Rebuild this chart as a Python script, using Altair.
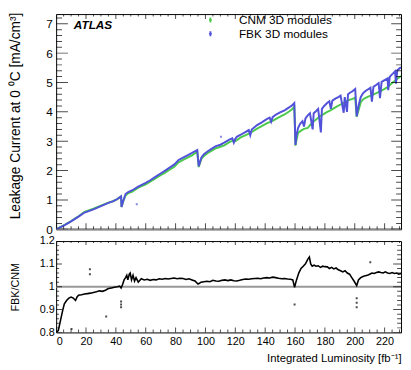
import altair as alt
import pandas as pd

# ---------------- data ----------------
series_names = ["CNM 3D modules", "FBK 3D modules"]
series_colors = ["#4cc94c", "#5151d9"]

cnm_x = [0, 3, 6, 10, 15, 19, 25, 30, 35, 38, 41, 43.5, 43.8, 45, 46.5, 48, 51, 55, 60, 63, 67, 70, 73, 76, 79, 82, 85, 88, 91, 94.5,
         95.5, 97.3, 99, 101.6, 104, 107, 110, 112.6, 116, 118, 120, 123.6, 127, 130, 134.6, 138, 141, 145, 147, 150, 153, 156, 158, 159.5,
         160.3, 161, 162, 164, 166, 168.5, 170, 172, 175.5, 178, 181, 184, 187, 190.5, 193, 196, 198.5, 200.3, 201.3,
         202.5, 204, 205.5, 207, 209, 212, 214.5, 217, 220, 222, 225, 227, 229, 231]
cnm_y = [0, 0.08, 0.16, 0.28, 0.445, 0.59, 0.70, 0.805, 0.91, 0.955, 1.03, 1.12, 0.76, 0.96, 1.15, 1.22, 1.28, 1.42, 1.53, 1.62, 1.75, 1.84, 1.93, 2.03, 2.12, 2.28, 2.36, 2.44, 2.52, 2.64,
         2.12, 2.40, 2.50, 2.60, 2.67, 2.76, 2.81, 2.86, 2.97, 3.01, 3.0, 3.13, 3.21, 3.28, 3.43, 3.52, 3.61, 3.69, 3.75, 3.84, 3.91, 4.01, 4.09, 4.17,
         2.85, 3.05, 3.28, 3.36, 3.42, 3.45, 3.55, 3.65, 3.8, 3.89, 3.98, 4.06, 4.15, 4.25, 4.32, 4.4, 4.44, 4.48, 3.83,
         4.05, 4.32, 4.42, 4.47, 4.52, 4.58, 4.64, 4.7, 4.78, 4.84, 4.98, 5.06, 5.15, 5.22]

fbk_x = [0, 3, 6, 10, 15, 19, 25, 30, 35, 38, 41, 43.5, 43.8, 45, 46.5, 48, 51, 55, 60, 63, 67, 70, 73, 76, 79, 82, 85, 88, 91, 94.5,
         95.5, 97.3, 99, 101.6, 104, 107, 110, 112.6, 116, 118, 119, 120, 121, 123.6, 127, 129, 130, 131, 134.6, 138, 141, 143, 144, 145, 147, 150, 153, 156, 158, 159.5,
         160.3, 161, 162, 163.5, 165, 166, 167, 168.5, 170, 171.8, 172.5, 174, 175.5, 177.3, 178, 179.5, 181.5, 183, 184, 185, 187, 189, 190.5, 192.6, 193.3, 194.8, 195.5, 197, 198.5, 200.3, 201.3,
         202.5, 204, 205.5, 207, 209, 210.5, 211.5, 212.5, 214.5, 216, 216.9, 218, 220, 222, 222.4, 223.5, 225.5, 227, 227.6, 228.5, 230, 231]
fbk_y = [0, 0.07, 0.15, 0.27, 0.43, 0.57, 0.68, 0.79, 0.9, 0.95, 1.03, 1.12, 0.76, 0.98, 1.2, 1.26, 1.33, 1.45, 1.58, 1.67, 1.8, 1.9, 2.0, 2.1, 2.2, 2.36, 2.44, 2.52, 2.6, 2.7,
         2.15, 2.45, 2.56, 2.66, 2.74, 2.83, 2.88, 2.95, 3.05, 3.1, 2.95, 3.08, 3.15, 3.22, 3.32, 3.38, 3.2, 3.4, 3.55, 3.65, 3.75, 3.8, 3.66, 3.82, 3.9, 3.98, 4.05, 4.15, 4.22, 4.3,
         2.87, 3.2, 3.45, 3.6, 3.68, 3.5, 3.78, 3.88, 3.95, 3.4, 3.95, 4.02, 4.1, 3.3, 4.1, 4.2, 4.3, 4.36, 4.1, 4.38, 4.45, 4.5, 4.55, 3.97, 4.5, 4.0, 4.6, 4.66, 4.7, 4.78, 3.85,
         4.2, 4.5, 4.63, 4.7, 4.77, 4.82, 4.35, 4.85, 4.92, 4.98, 4.47, 5.02, 5.08, 5.14, 4.74, 5.2, 5.3, 5.38, 4.96, 5.42, 5.48, 5.52]

fbk_stray_x = [54, 110.4]
fbk_stray_y = [0.85, 3.15]

ratio_x = [0.5, 1.5, 2.5, 3.5, 4.5, 5.5, 7, 8.5, 10, 11.5, 13, 14, 15, 17, 19, 21, 23, 25, 27, 29,
           31, 33, 35, 37, 39, 41, 42.5, 43.5, 44.5, 45.5, 46.5, 47.3, 48, 49, 49.6, 50.5, 51.5, 52.5, 53.5, 55,
           57, 59, 61, 63, 65, 67, 69, 71, 73, 75, 77, 79, 81, 83, 85, 87, 89, 91, 93, 95,
           96, 97, 99, 101, 103, 105, 107, 109, 111, 113, 115, 117, 119, 121, 123, 125, 127, 129, 131, 133,
           135, 137, 139, 141, 143, 145, 147, 149, 151, 153, 155, 157, 158.5, 159.7, 161, 162.5, 164, 165.5, 167, 168.5,
           169.6, 170.5, 171.5, 172.8, 174, 175.5, 177, 178.5, 180, 181.6, 183, 184.5, 186, 187.5, 189, 190.5, 192, 193.5, 195, 196.5,
           198, 199.5, 201.3, 202.5, 204, 205.5, 207, 208.5, 210, 211.5, 213, 214.5, 216, 217.5, 219, 220.5, 222, 223.5, 225, 226.5,
           228, 229.5, 231]
ratio_y = [0.80, 0.81, 0.84, 0.87, 0.90, 0.925, 0.94, 0.95, 0.955, 0.95, 0.94, 0.955, 0.963, 0.965, 0.968, 0.97, 0.972, 0.975, 0.978, 0.982,
           0.98, 0.985, 0.992, 0.995, 0.998, 1.0, 1.003, 0.995, 1.01, 1.03, 1.04, 1.05, 1.03, 1.055, 1.06, 1.03, 1.05, 1.025, 1.04, 1.02,
           1.035, 1.03, 1.033, 1.028, 1.032, 1.03, 1.035, 1.033, 1.036, 1.034, 1.036, 1.038, 1.035, 1.037, 1.036, 1.032, 1.035, 1.03, 1.025, 1.012,
           1.015, 1.02, 1.022, 1.024, 1.022, 1.028, 1.025, 1.024, 1.028, 1.03, 1.027, 1.03, 1.026, 1.025, 1.028, 1.032, 1.034, 1.033, 1.035, 1.036,
           1.037, 1.035, 1.038, 1.04, 1.038, 1.042, 1.04, 1.037, 1.035, 1.036, 1.034, 1.033, 1.03, 0.998, 1.03, 1.06, 1.08, 1.09, 1.1, 1.12,
           1.13, 1.1, 1.09, 1.095, 1.09, 1.092, 1.085, 1.09, 1.088, 1.087, 1.08, 1.085, 1.078, 1.082, 1.074, 1.07, 1.065, 1.07, 1.06, 1.055,
           1.04, 1.025, 1.005, 1.03, 1.04, 1.045, 1.048, 1.05, 1.055, 1.06, 1.058, 1.062, 1.065, 1.062, 1.06, 1.065, 1.06, 1.058, 1.062, 1.058,
           1.06, 1.055, 1.058]

ratio_stray_x = [10.3, 22.6, 22.6, 33.5, 43.5, 43.5, 43.5, 159.7, 201.3, 201.3, 201.3, 210.4]
ratio_stray_y = [0.815, 1.077, 1.055, 0.87, 0.91, 0.922, 0.935, 0.922, 0.95, 0.93, 0.91, 1.107]

x_label_values = [0, 20, 40, 60, 80, 100, 120, 140, 160, 180, 200, 220]
x_minor_values = [v for v in range(5, 231, 5) if v % 20 != 0]
top_y_major = [0, 1, 2, 3, 4, 5, 6, 7]
top_y_minor = [round(i * 0.2, 2) for i in range(1, 37) if i % 5 != 0]
bot_y_major = [0.8, 0.9, 1.0, 1.1, 1.2]
bot_y_minor = [round(0.8 + i * 0.02, 2) for i in range(1, 20) if i % 5 != 0]
ref_line = [1.0]

# ---------------- layout ----------------
W = 351
H1 = 219
H2 = 93
FONT = "Liberation Sans"

xscale = alt.Scale(domain=[0, 231], nice=False, zero=False)
ytop = alt.Scale(domain=[0, 7.33], nice=False, zero=False)
ybot = alt.Scale(domain=[0.8, 1.2], nice=False, zero=False)

ax_top_y = alt.Axis(
    values=top_y_major, ticks=False, tickSize=0, domain=False, grid=False,
    labelPadding=4, labelFontSize=12, labelColor="black", labelFont=FONT,
    title="Leakage Current at 0 \u2070C [mA/cm\u00b3]", titleFontSize=14,
    titleFontWeight="normal", titleColor="black", titleFont=FONT,
    titleX=-41, titleY=-2, titleAlign="right", titleBaseline="middle", titleAngle=270)
ax_bot_x = alt.Axis(
    values=x_label_values, ticks=False, tickSize=0, domain=False, grid=False,
    labelPadding=3, labelFontSize=11, labelColor="black", labelFont=FONT,
    title="Integrated Luminosity [fb\u207b\u00b9]", titleFontSize=11.5,
    titleFontWeight="normal", titleColor="black", titleFont=FONT,
    titleX=W, titleY=27, titleAlign="right", titleBaseline="middle")
ax_bot_y = alt.Axis(
    values=bot_y_major, ticks=False, tickSize=0, domain=False, grid=False,
    labelExpr="datum.value == 1 ? '1' : format(datum.value, '.1f')",
    labelPadding=2, labelFontSize=11, labelColor="black", labelFont=FONT,
    title="FBK/CNM", titleFontSize=11, titleFontWeight="normal",
    titleColor="black", titleFont=FONT,
    titleX=-41, titleY=H2 / 2, titleAlign="center", titleBaseline="middle", titleAngle=270)


def tick_layer(vals, channel, scale, axis, length, pos):
    df = pd.DataFrame({"t": vals})
    if channel == "x":
        enc = dict(x=alt.X("t:Q", scale=scale, axis=axis), y=alt.value(pos))
        orient = "vertical"
    else:
        enc = dict(y=alt.Y("t:Q", scale=scale, axis=axis), x=alt.value(pos))
        orient = "horizontal"
    return alt.Chart(df).mark_tick(orient=orient, size=2 * length, thickness=1,
                                   color="black", clip=True).encode(**enc)


top_df = pd.concat([
    pd.DataFrame({"x": cnm_x, "y": cnm_y, "series": series_names[0]}),
    pd.DataFrame({"x": fbk_x, "y": fbk_y, "series": series_names[1]}),
])

SYM = "M0,-1V1M-0.25,0A0.25,0.25,0,1,1,0.25,0A0.25,0.25,0,1,1,-0.25,0"

top_lines = alt.Chart(top_df).mark_line(strokeWidth=2, clip=True).encode(
    x=alt.X("x:Q", scale=xscale, axis=None),
    y=alt.Y("y:Q", scale=ytop, axis=ax_top_y),
    color=alt.Color("series:N", scale=alt.Scale(domain=series_names, range=series_colors),
                    legend=alt.Legend(orient="none", legendX=151, legendY=0, title=None,
                                      labelFontSize=12, labelFont=FONT, labelColor="black",
                                      symbolType=SYM, symbolSize=25, symbolStrokeWidth=1.8,
                                      labelOffset=23, rowPadding=0, padding=0, labelLimit=300)),
    order=alt.Order("x:Q"),
)

top_stray = alt.Chart(pd.DataFrame({"x": fbk_stray_x, "y": fbk_stray_y})).mark_square(
    size=4, color=series_colors[1], clip=True).encode(
    x=alt.X("x:Q", scale=xscale, axis=None), y=alt.Y("y:Q", scale=ytop, axis=ax_top_y))

top_base = alt.Chart(pd.DataFrame({"y": [0]})).mark_rule(color="#8a8a8a", strokeWidth=2).encode(
    y=alt.Y("y:Q", scale=ytop, axis=ax_top_y))

atlas = alt.Chart(pd.DataFrame({"t": ["ATLAS"]})).mark_text(
    align="left", baseline="middle", fontStyle="italic", fontWeight="bold",
    fontSize=12, font=FONT, color="black").encode(
    text="t:N", x=alt.value(18), y=alt.value(11.5))

top = alt.layer(
    top_base, top_lines, top_stray,
    tick_layer(x_label_values, "x", xscale, None, 6, H1),
    tick_layer(x_minor_values, "x", xscale, None, 3, H1),
    tick_layer(x_label_values, "x", xscale, None, 5, 0),
    tick_layer(x_minor_values, "x", xscale, None, 2.5, 0),
    tick_layer(top_y_major, "y", ytop, ax_top_y, 12, 0),
    tick_layer(top_y_minor, "y", ytop, ax_top_y, 6, 0),
    tick_layer(top_y_major, "y", ytop, ax_top_y, 10, W),
    tick_layer(top_y_minor, "y", ytop, ax_top_y, 5, W),
    atlas,
).properties(width=W, height=H1)

ratio_line = alt.Chart(pd.DataFrame({"x": ratio_x, "y": ratio_y})).mark_line(
    color="black", strokeWidth=1.6, clip=True).encode(
    x=alt.X("x:Q", scale=xscale, axis=ax_bot_x),
    y=alt.Y("y:Q", scale=ybot, axis=ax_bot_y),
    order=alt.Order("x:Q"),
)

ratio_stray = alt.Chart(pd.DataFrame({"x": ratio_stray_x, "y": ratio_stray_y})).mark_square(
    size=4, color="black", clip=True).encode(
    x=alt.X("x:Q", scale=xscale, axis=ax_bot_x), y=alt.Y("y:Q", scale=ybot, axis=ax_bot_y))

one_line = alt.Chart(pd.DataFrame({"y": ref_line})).mark_rule(color="#999999", strokeWidth=2).encode(
    y=alt.Y("y:Q", scale=ybot, axis=ax_bot_y))

bottom = alt.layer(
    one_line, ratio_line, ratio_stray,
    tick_layer(x_label_values, "x", xscale, ax_bot_x, 5, H2),
    tick_layer(x_minor_values, "x", xscale, ax_bot_x, 3, H2),
    tick_layer(x_label_values, "x", xscale, ax_bot_x, 4, 0),
    tick_layer(x_minor_values, "x", xscale, ax_bot_x, 2, 0),
    tick_layer(bot_y_major, "y", ybot, ax_bot_y, 6, 0),
    tick_layer(bot_y_minor, "y", ybot, ax_bot_y, 3, 0),
    tick_layer(bot_y_major, "y", ybot, ax_bot_y, 8, W),
    tick_layer(bot_y_minor, "y", ybot, ax_bot_y, 4, W),
).properties(width=W, height=H2)

chart = alt.vconcat(top, bottom, spacing=12, bounds="flush").properties(
    padding=0, background="white"
).configure(font=FONT).configure_view(stroke="black", strokeWidth=1)

chart.save("out.html", embed_options={"renderer": "svg", "actions": False})
